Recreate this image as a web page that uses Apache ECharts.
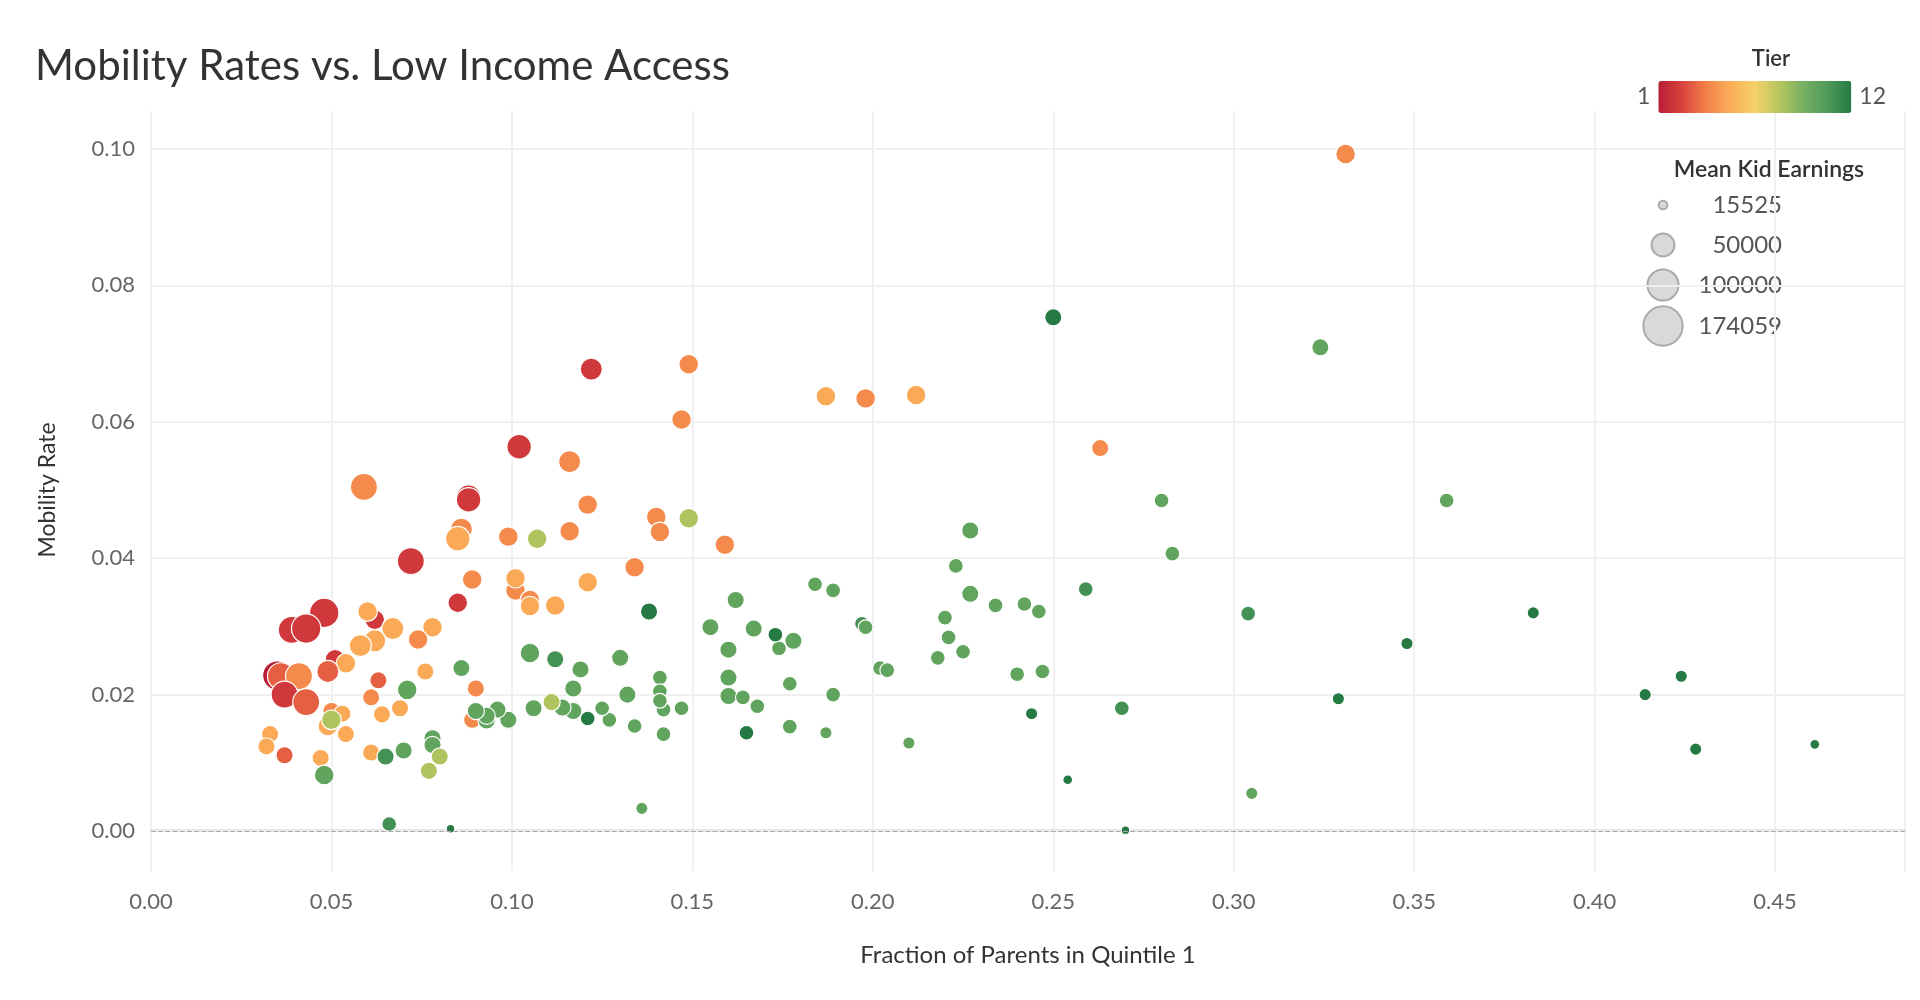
<html>
<head>
<meta charset="utf-8">
<title>Mobility Rates vs. Low Income Access</title>
<script src="https://cdn.jsdelivr.net/npm/echarts@6/dist/echarts.min.js"></script>
</head>
<body style="margin:0">
<div id="main" style="width:1920px;height:1000px;"></div>
<script>
var xTicks = [0, 0.05, 0.10, 0.15, 0.20, 0.25, 0.30, 0.35, 0.40, 0.45];
var yTicks = [0, 0.02, 0.04, 0.06, 0.08, 0.10];
var sizeLegend = [15525, 50000, 100000, 174059];
// [fraction of parents in Q1, mobility rate, tier, mean kid earnings]
var warmPoints = [
  [0.331,0.0993,4,36000],[0.263,0.0561,4,28000],
  [0.122,0.0677,2,46000],[0.149,0.0684,4,36000],[0.147,0.0603,4,36000],
  [0.187,0.0637,5,36000],[0.198,0.0634,4,36000],[0.212,0.0639,5,36000],
  [0.102,0.0563,2,58000],[0.059,0.0504,4,72000],[0.116,0.0541,4,46000],
  [0.088,0.0489,2,58000],[0.088,0.0485,2,58000],[0.121,0.0478,4,36000],[0.140,0.0460,4,36000],
  [0.141,0.0438,4,36000],[0.116,0.0439,4,36000],[0.099,0.0431,4,36000],
  [0.086,0.0442,4,46000],[0.085,0.0428,5,58000],[0.159,0.0419,4,36000],
  [0.072,0.0395,2,72000],[0.134,0.0386,4,36000],[0.089,0.0368,4,36000],
  [0.121,0.0364,5,36000],[0.101,0.0352,4,36000],[0.101,0.0370,5,36000],
  [0.105,0.0338,4,36000],[0.105,0.0329,5,36000],[0.112,0.0330,5,36000],
  [0.085,0.0334,2,36000],[0.078,0.0298,5,36000],[0.074,0.0280,4,36000],
  [0.062,0.0309,2,36000],[0.067,0.0296,5,46000],[0.060,0.0321,5,36000],
  [0.062,0.0278,5,46000],[0.058,0.0271,5,46000],
  [0.048,0.0319,2,88000],[0.039,0.0294,2,72000],[0.043,0.0296,2,88000],
  [0.051,0.0251,2,36000],[0.054,0.0245,5,36000],[0.049,0.0233,3,46000],
  [0.076,0.0233,5,28000],[0.063,0.0220,3,28000],
  [0.035,0.0227,1,88000],[0.036,0.0226,3,72000],[0.041,0.0226,4,72000],
  [0.037,0.0199,2,72000],[0.043,0.0188,3,72000],
  [0.061,0.0195,4,28000],[0.069,0.0179,5,28000],[0.064,0.0170,5,28000],
  [0.090,0.0208,4,28000],[0.089,0.0162,4,28000],
  [0.050,0.0175,4,28000],[0.053,0.0171,5,28000],[0.049,0.0153,5,36000],
  [0.054,0.0141,5,28000],[0.033,0.0141,5,28000],[0.032,0.0123,5,28000],
  [0.037,0.0110,3,28000],[0.047,0.0106,5,28000],[0.061,0.0114,5,28000]
];
var coolPoints = [
  [0.250,0.0753,12,28000],[0.324,0.0709,10,28000],[0.280,0.0484,10,22000],
  [0.359,0.0484,10,22000],[0.283,0.0406,10,22000],[0.227,0.0440,10,28000],
  [0.223,0.0388,10,22000],[0.259,0.0354,11,22000],[0.304,0.0318,11,22000],
  [0.383,0.0319,12,17800],[0.348,0.0274,12,17800],[0.424,0.0226,12,17800],
  [0.414,0.0199,12,17800],[0.428,0.0119,12,17800],[0.461,0.0126,12,15780],
  [0.329,0.0193,12,17800],[0.305,0.0054,10,17800],[0.269,0.0179,11,22000],
  [0.254,0.0074,12,15780],[0.270,0.0000,12,15525],[0.244,0.0171,12,17800],
  [0.246,0.0321,10,22000],[0.242,0.0332,10,22000],[0.234,0.0330,10,22000],
  [0.227,0.0347,10,28000],[0.220,0.0312,10,22000],[0.221,0.0283,10,22000],
  [0.225,0.0262,10,22000],[0.218,0.0253,10,22000],[0.240,0.0229,10,22000],
  [0.247,0.0233,10,22000],[0.210,0.0128,10,17800],[0.202,0.0238,10,22000],
  [0.204,0.0235,10,22000],[0.197,0.0303,11,22000],[0.198,0.0298,10,22000],
  [0.189,0.0352,10,22000],[0.184,0.0361,10,22000],[0.189,0.0199,10,22000],
  [0.187,0.0143,10,17800],[0.177,0.0215,10,22000],[0.177,0.0152,10,22000],
  [0.178,0.0278,10,28000],[0.174,0.0267,10,22000],[0.173,0.0287,12,22000],
  [0.167,0.0296,10,28000],[0.162,0.0338,10,28000],[0.155,0.0298,10,28000],
  [0.160,0.0265,10,28000],[0.160,0.0224,10,28000],[0.160,0.0197,10,28000],
  [0.164,0.0195,10,22000],[0.168,0.0182,10,22000],[0.165,0.0143,12,22000],
  [0.147,0.0179,10,22000],[0.142,0.0177,10,22000],[0.142,0.0141,10,22000],
  [0.141,0.0224,10,22000],[0.141,0.0204,10,22000],[0.141,0.0190,10,22000],
  [0.138,0.0321,12,28000],[0.136,0.0032,10,17800],[0.134,0.0153,10,22000],
  [0.132,0.0199,10,28000],[0.130,0.0253,10,28000],[0.127,0.0162,10,22000],
  [0.125,0.0179,10,22000],[0.121,0.0164,12,22000],[0.119,0.0236,10,28000],
  [0.117,0.0208,10,28000],[0.117,0.0175,10,28000],[0.114,0.0180,10,28000],
  [0.111,0.0188,8,28000],[0.112,0.0251,11,28000],[0.105,0.0260,10,36000],
  [0.106,0.0179,10,28000],[0.099,0.0162,10,28000],[0.096,0.0177,10,28000],
  [0.093,0.0161,10,28000],[0.093,0.0168,10,28000],[0.090,0.0175,10,28000],
  [0.086,0.0238,10,28000],[0.078,0.0135,10,28000],[0.078,0.0125,10,28000],
  [0.080,0.0108,8,28000],[0.077,0.0087,8,28000],[0.071,0.0206,10,36000],
  [0.070,0.0117,10,28000],[0.065,0.0108,11,28000],[0.048,0.0081,10,36000],
  [0.066,0.0009,11,22000],[0.083,0.0002,12,15525],
  [0.050,0.0162,8,36000],[0.107,0.0428,8,36000],[0.149,0.0458,8,36000]
];

var S = 1.23;
var minE = 15525, maxE = 174059;
function radius(v) {
  return 3.5 + 12.5 * Math.sqrt(Math.max(0, v - minE) / (maxE - minE));
}
function dia(v) { return 2 * S * radius(v); }

var points = warmPoints.concat(coolPoints);
var font = 'Lato, "Open Sans", sans-serif';

var legendGraphics = [
  {type:'text', x:1771, y:59, style:{text:'Tier', font:'600 22px ' + font, fill:'#333',
    textAlign:'center', textVerticalAlign:'middle'}},
  {type:'text', x:1769, y:170, style:{text:'Mean Kid Earnings', font:'600 23px ' + font, fill:'#333',
    textAlign:'center', textVerticalAlign:'middle'}}
];
var legendY = [205, 245, 285, 326];
sizeLegend.forEach(function (v, i) {
  legendGraphics.push({type:'circle', shape:{cx:1663, cy:legendY[i], r:radius(v) * S},
    style:{fill:'#d9d9d9', stroke:'#aaaaaa', lineWidth:2}});
  legendGraphics.push({type:'text', x:1782, y:legendY[i], style:{text:String(v),
    textAlign:'right', textVerticalAlign:'middle', font:'24px ' + font, fill:'#555'}});
});

var myChart = echarts.init(document.getElementById('main'));
var option = {
  backgroundColor: '#fff',
  title: {text: 'Mobility Rates vs. Low Income Access', left: 30, top: 40,
    textStyle: {fontFamily: font, fontSize: 42, fontWeight: 'normal', color: '#333'}},
  graphic: legendGraphics,
  visualMap: {
    type: 'continuous', dimension: 2, min: 1, max: 12, seriesIndex: 0,
    orient: 'horizontal', left: 1622, top: 66, itemWidth: 32, itemHeight: 193,
    text: ['12', '1'], textGap: 8, calculable: false,
    textStyle: {fontFamily: font, fontSize: 23, color: '#555'},
    inRange: {color: ['#b91d36','#d8443d','#f4824a','#fbae58','#f6d16b','#b5c65e','#78b062','#4e9a5a','#257a43']}
  },
  grid: [
    {left: 151, right: 15, top: 111, bottom: 129},
    {left: 151, right: 15, top: 149, bottom: 169}
  ],
  xAxis: [
    {gridIndex: 0, type: 'value', min: 0, max: 0.486, interval: 0.05,
      name: 'Fraction of Parents in Quintile 1', nameLocation: 'middle', nameGap: 72,
      nameTextStyle: {fontFamily: font, fontSize: 24, color: '#333'},
      axisLine: {show: true, lineStyle: {color: '#e6e6e6', width: 2}}, axisTick: {show: false},
      axisLabel: {fontFamily: font, fontSize: 22, color: '#666', margin: 20, showMaxLabel: false,
        formatter: function (v) { return v.toFixed(2); }},
      splitLine: {show: true, lineStyle: {color: '#f0f0f0', width: 2}}},
    {gridIndex: 1, type: 'value', min: 0, max: 0.486, show: false}
  ],
  yAxis: [
    {gridIndex: 0, type: 'value', min: -0.006, max: 0.1056, show: false, splitLine: {show: false}},
    {gridIndex: 1, type: 'value', min: 0, max: 0.10, interval: 0.02,
      name: 'Mobility Rate', nameLocation: 'middle', nameGap: 92,
      nameTextStyle: {fontFamily: font, fontSize: 23, color: '#333'},
      axisLine: {show: false}, axisTick: {show: false},
      axisLabel: {fontFamily: font, fontSize: 22, color: '#666', margin: 16,
        formatter: function (v) { return v.toFixed(2); }},
      splitLine: {show: true, lineStyle: {color: '#f0f0f0', width: 2}}}
  ],
  series: [
    {type: 'scatter', xAxisIndex: 0, yAxisIndex: 0, data: points,
      symbolSize: function (d) { return dia(d[3]); },
      itemStyle: {borderColor: '#fff', borderWidth: 1.2, opacity: 1}, z: 3},
    {type: 'line', xAxisIndex: 1, yAxisIndex: 1, data: [], silent: true,
      markLine: {symbol: 'none', silent: true, label: {show: false},
        lineStyle: {color: '#aaa', type: 'dashed', width: 1.2},
        data: [{yAxis: 0}]}}
  ]
};
myChart.setOption(option);
</script>
</body>
</html>
